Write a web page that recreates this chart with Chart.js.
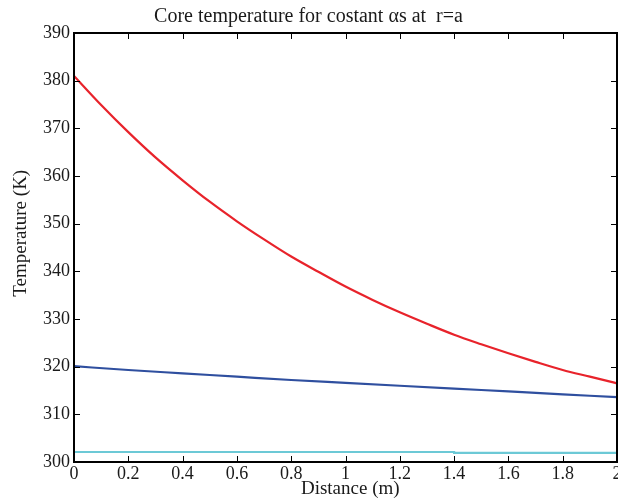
<!DOCTYPE html>
<html>
<head>
<meta charset="utf-8">
<script src="https://cdn.jsdelivr.net/npm/chart.js@4"></script>
<style>
  html, body { margin: 0; padding: 0; background: #ffffff; }
  #wrap { width: 618px; height: 502px; }
</style>
</head>
<body>
<div id="wrap"><canvas id="chart" width="618" height="502"></canvas></div>
<script>
// Distance (m) values
const distRed = [0, 0.1, 0.2, 0.3, 0.4, 0.5, 0.6, 0.7, 0.8, 0.9, 1.0, 1.1, 1.2, 1.3, 1.4, 1.5, 1.6, 1.7, 1.8, 1.9, 2.0];
const tempRed = [381.0, 374.9, 369.2, 363.9, 359.1, 354.6, 350.5, 346.7, 343.1, 339.9, 336.8, 334.0, 331.4, 329.0, 326.7, 324.7, 322.8, 321.0, 319.3, 317.9, 316.5];

const distBlue = [0, 0.2, 0.4, 0.6, 0.8, 1.0, 1.2, 1.4, 1.6, 1.8, 2.0];
const tempBlue = [320.1, 319.3, 318.6, 317.9, 317.2, 316.6, 316.0, 315.4, 314.8, 314.2, 313.6];

const distCyan = [0, 1.4, 1.4, 2.0];
const tempCyan = [302.1, 302.1, 301.9, 301.9];

const yTicks = [300, 310, 320, 330, 340, 350, 360, 370, 380, 390];
const xTicks = [0, 0.2, 0.4, 0.6, 0.8, 1, 1.2, 1.4, 1.6, 1.8, 2];

const serif = '"Liberation Serif", "DejaVu Serif", serif';
Chart.defaults.font.family = serif;
Chart.defaults.color = '#1a1a1a';

function toPoints(xs, ys) {
  return xs.map((x, i) => ({ x: x, y: ys[i] }));
}

// frame with inward ticks on all four sides
const framePlugin = {
  id: 'frame',
  afterDraw(chart) {
    const ctx = chart.ctx;
    const a = chart.chartArea;
    const xs = chart.scales.x;
    const ys = chart.scales.y;
    const len = 6;
    ctx.save();
    ctx.strokeStyle = '#000000';
    ctx.lineWidth = 1;
    ctx.beginPath();
    xTicks.forEach(v => {
      const px = Math.round(xs.getPixelForValue(v)) + 0.5;
      ctx.moveTo(px, a.bottom); ctx.lineTo(px, a.bottom - len);
      ctx.moveTo(px, a.top); ctx.lineTo(px, a.top + len);
    });
    yTicks.forEach(v => {
      const py = Math.round(ys.getPixelForValue(v)) + 0.5;
      ctx.moveTo(a.left, py); ctx.lineTo(a.left + len, py);
      ctx.moveTo(a.right, py); ctx.lineTo(a.right - len, py);
    });
    ctx.stroke();
    ctx.lineWidth = 2;
    ctx.strokeRect(a.left, a.top, a.right - a.left, a.bottom - a.top);
    ctx.restore();
  }
};

new Chart(document.getElementById('chart'), {
  type: 'line',
  data: {
    datasets: [
      {
        label: 'red',
        data: toPoints(distRed, tempRed),
        borderColor: '#e8232b',
        borderWidth: 2.2,
        pointRadius: 0,
        cubicInterpolationMode: 'monotone',
      },
      {
        label: 'blue',
        data: toPoints(distBlue, tempBlue),
        borderColor: '#2f4f9f',
        borderWidth: 2.2,
        pointRadius: 0,
        cubicInterpolationMode: 'monotone',
      },
      {
        label: 'cyan',
        data: toPoints(distCyan, tempCyan),
        borderColor: '#6cc9d6',
        borderWidth: 2.2,
        pointRadius: 0,
      },
    ],
  },
  options: {
    responsive: false,
    animation: false,
    layout: { padding: { left: 0, right: 1, top: 0, bottom: 0 } },
    plugins: {
      legend: { display: false },
      tooltip: { enabled: false },
      title: {
        display: true,
        text: 'Core temperature for costant \u03b1s at  r=a',
        color: '#1a1a1a',
        font: { size: 20, weight: 'normal', family: serif },
        padding: { top: 5, bottom: 4 },
      },
    },
    scales: {
      x: {
        type: 'linear',
        min: 0,
        max: 2,
        afterFit(scale) {
          scale.height = 40;
          scale.paddingLeft = 0;
          scale.paddingRight = 0;
        },
        afterBuildTicks(scale) {
          scale.ticks = xTicks.map(v => ({ value: v }));
        },
        ticks: {
          font: { size: 18 },
          color: '#1a1a1a',
          padding: 1,
          maxRotation: 0,
          autoSkip: false,
          callback: v => String(Math.round(v * 10) / 10),
        },
        grid: { display: false, drawTicks: false },
        border: { display: false },
        title: {
          display: true,
          text: '  Distance (m)',
          color: '#1a1a1a',
          font: { size: 19 },
          padding: { top: 0, bottom: 2 },
        },
      },
      y: {
        min: 300,
        max: 390,
        afterFit(scale) {
          scale.width = 74;
          scale.paddingTop = 0;
          scale.paddingBottom = 0;
        },
        afterBuildTicks(scale) {
          scale.ticks = yTicks.map(v => ({ value: v }));
        },
        ticks: {
          font: { size: 18 },
          color: '#1a1a1a',
          padding: 4,
          autoSkip: false,
        },
        grid: { display: false, drawTicks: false },
        border: { display: false },
        title: {
          display: true,
          text: '      Temperature (K)',
          color: '#1a1a1a',
          font: { size: 19 },
          padding: { top: 10, bottom: 0 },
        },
      },
    },
  },
  plugins: [framePlugin],
});
</script>
</body>
</html>
